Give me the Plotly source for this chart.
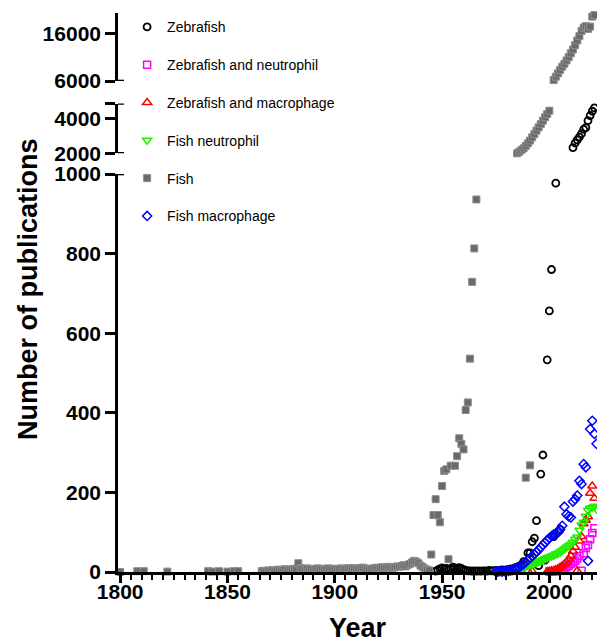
import plotly.graph_objects as go

FONT = "Liberation Sans, Arial, sans-serif"

# ---------------- data ----------------
# Zebrafish
zf_years = [1947, 1948, 1949, 1950, 1951, 1952, 1953, 1954, 1955, 1956, 1957, 1958, 1959, 1960,
            1961, 1962, 1963, 1964, 1965, 1966, 1967, 1968, 1969, 1970, 1971, 1972, 1973, 1974,
            1975, 1976, 1977, 1978, 1979, 1980, 1981, 1982, 1983, 1984, 1985, 1986, 1987,
            1988, 1990, 1991, 1992, 1993, 1994, 1995, 1996, 1997, 1998, 1999, 2000, 2001,
            2002, 2003, 2005,
            2011, 2012, 2013, 2014, 2015, 2016, 2017, 2018, 2019, 2020, 2021]
zf_vals = [2, 5, 8, 10, 7, 9, 6, 8, 12, 10, 8, 11, 9, 6,
           4, 3, 3, 2, 3, 2, 3, 2, 3, 3, 2, 4, 3, 3,
           4, 3, 4, 5, 4, 5, 6, 8, 7, 10, 12, 15, 18,
           26, 48, 48, 76, 85, 129, 16, 246, 294, 30, 533, 656, 760,
           89, 977, 107,
           2330, 2600, 2780, 2950, 3150, 3400, 3500, 3900, 4200, 4450, 4650]

# Zebrafish and neutrophil
zn_years = [2000, 2001, 2002, 2003, 2004, 2005, 2006, 2007, 2008, 2009, 2010, 2011, 2012,
            2013, 2014, 2015, 2016, 2017, 2018, 2019, 2020, 2021]
zn_vals = [1, 1, 2, 2, 3, 4, 5, 8, 12, 16, 20, 24, 28, 34, 40, 3, 47, 60, 68, 82, 98, 110]

# Zebrafish and macrophage
zm_years = [1990, 1992, 1999, 2000, 2001, 2002, 2003, 2004, 2005, 2006, 2007, 2008, 2009,
            2010, 2011, 2012, 2013, 2014, 2015, 2016, 2017, 2018, 2019, 2020, 2021]
zm_vals = [3, 2, 1, 2, 3, 4, 6, 8, 12, 15, 20, 25, 32, 40, 52, 62, 3, 78, 89, 121, 130,
           139, 198, 216, 185]

# Fish neutrophil
fn_years = [1975, 1976, 1977, 1978, 1979, 1980, 1981, 1982, 1983, 1984, 1985, 1986, 1987,
            1988, 1989, 1990, 1991, 1992, 1993, 1994, 1995, 1996, 1997, 1998, 1999, 2000,
            2001, 2002, 2003, 2004, 2005, 2006, 2007, 2008, 2009, 2010, 2011, 2012, 2013,
            2014, 2015, 2016, 2017, 2018, 2019, 2020, 2021, 2022]
fn_vals = [1, 1, 2, 1, 2, 2, 3, 3, 4, 4, 5, 8, 10, 12, 14, 16, 18, 20, 22, 24, 26, 28, 30,
           33, 36, 38, 40, 42, 45, 47, 50, 54, 58, 62, 66, 70, 75, 82, 88, 105, 118, 125,
           140, 155, 160, 162, 165, 158]

# Fish
fish_years = [1800, 1808, 1811, 1822, 1841, 1843, 1846, 1850, 1853, 1855,
              1866, 1867, 1868, 1869, 1870, 1871, 1872, 1873, 1874, 1875, 1876, 1877, 1878, 1879,
              1880, 1881, 1882, 1883, 1884, 1885, 1886, 1887, 1888, 1889,
              1890, 1891, 1892, 1893, 1894, 1895, 1896, 1897, 1898, 1899,
              1900, 1901, 1902, 1903, 1904, 1905, 1906, 1907, 1908, 1909,
              1910, 1911, 1912, 1913, 1914, 1915, 1916, 1917, 1918, 1919,
              1920, 1921, 1922, 1923, 1924, 1925, 1926, 1927, 1928, 1929,
              1930, 1931, 1932, 1933, 1934, 1935, 1936, 1937, 1938, 1939,
              1940, 1941, 1942, 1943, 1944,
              1945, 1946, 1947, 1948, 1949, 1950, 1951, 1952, 1953, 1954, 1956, 1957, 1958,
              1959, 1960, 1961, 1962, 1963, 1964, 1965, 1966, 1989, 1991,
              1985, 1986, 1987, 1988, 1989, 1990, 1991, 1992, 1993, 1994, 1995, 1996, 1997,
              1998, 1999, 2000,
              2002, 2003, 2004, 2005, 2006, 2007, 2008, 2009, 2010, 2011, 2012, 2013, 2014,
              2015, 2016, 2017, 2018, 2019, 2020, 2021]
fish_vals = [0, 2, 2, 1, 2, 1, 2, 1, 2, 2,
             2, 3, 2, 4, 3, 5, 3, 4, 6, 4, 5, 7, 5, 6,
             6, 8, 7, 22, 10, 8, 6, 9, 7, 8,
             6, 7, 9, 8, 7, 6, 8, 9, 7, 8,
             7, 8, 6, 9, 8, 7, 9, 10, 8, 9,
             9, 8, 10, 11, 9, 7, 6, 8, 9, 10,
             11, 10, 12, 9, 11, 13, 12, 10, 12, 14,
             13, 15, 17, 14, 18, 20, 24, 28, 26, 22,
             16, 12, 8, 6, 4,
             44, 143, 183, 143, 125, 216, 254, 258, 32, 267, 267, 291, 336,
             322, 308, 407, 426, 536, 729, 813, 936, 237, 268,
             2000, 2090, 2190, 2290, 2430, 2580, 2740, 2930, 3120, 3320, 3510, 3700, 3900,
             4100, 4290, 4480,
             6200, 6900, 7600, 8300, 9000, 9600, 10300, 11000, 11800, 12600, 13500, 14500, 15400,
             16500, 17200, 17500, 16900, 17400, 19500, 19800]

# Fish macrophage
fm_years = [1975, 1976, 1977, 1978, 1979, 1980, 1981, 1982, 1983, 1984, 1985, 1986, 1987,
            1988, 1989, 1990, 1991, 1992, 1993, 1994, 1995, 1996, 1997, 1998, 1999, 2000,
            2001, 2002, 2003, 2004, 2005, 2006, 2007, 2008, 2009, 2010, 2011, 2012, 2013,
            2014, 2015, 2016, 2017, 2018, 2019, 2020, 2021, 2022]
fm_vals = [1, 1, 2, 1, 2, 3, 3, 4, 5, 7, 9, 12, 16, 20, 25, 30, 35, 40, 45, 50, 56, 62,
           68, 74, 80, 85, 90, 94, 97, 99, 107, 116, 164, 145, 140, 137, 177, 183, 192,
           229, 221, 271, 263, 28, 359, 380, 347, 322]

# axis segments (broken y axis)
SEGMENTS = [("y", 0, 1000), ("y2", 2000, 4900), ("y3", 6000, 20250)]
Y_TICKS = {"y": [0, 200, 400, 600, 800, 1000], "y2": [2000, 4000, 4900], "y3": [6000, 16000]}
Y_TEXT = {"y": ["0", "200", "400", "600", "800", "1000"], "y2": ["2000", "4000", ""],
          "y3": ["6000", "16000"]}
X_TICKS = [1800, 1850, 1900, 1950, 2000]

series = [
    dict(name="Zebrafish", x=zf_years, y=zf_vals, symbol="circle-open", color="#000000",
         size=7, lw=1.8),
    dict(name="Zebrafish and neutrophil", x=zn_years, y=zn_vals, symbol="square-open",
         color="#FF00FF", size=7, lw=1.5),
    dict(name="Zebrafish and macrophage", x=zm_years, y=zm_vals, symbol="triangle-up-open",
         color="#FF0000", size=8, lw=1.5),
    dict(name="Fish neutrophil", x=fn_years, y=fn_vals, symbol="triangle-down-open",
         color="#22EE00", size=8, lw=1.5),
    dict(name="Fish", x=fish_years, y=fish_vals, symbol="square", color="#6A6A6A",
         size=7, lw=1.0, edge="#8E8E8E"),
    dict(name="Fish macrophage", x=fm_years, y=fm_vals, symbol="diamond-open",
         color="#0000FF", size=7, lw=1.5),
]

fig = go.Figure()
for s in series:
    first = True
    for ax, lo, hi in SEGMENTS:
        pts = [(a, b) for a, b in zip(s["x"], s["y"]) if lo <= b <= hi]
        if not pts and not first:
            continue
        xs = [p[0] for p in pts]
        ys = [p[1] for p in pts]
        marker = dict(symbol=s["symbol"], size=s["size"], color=s["color"],
                      line=dict(width=s["lw"], color=s.get("edge", s["color"])))
        fig.add_trace(go.Scatter(x=xs, y=ys, yaxis=ax, mode="markers", name=s["name"],
                                 legendgroup=s["name"], showlegend=first,
                                 cliponaxis=False, marker=marker))
        first = False

LW = 2.6
PLOT_TOP_PX, PLOT_BOT_PX, H = 13, 572, 643
PH = PLOT_BOT_PX - PLOT_TOP_PX


def dom(top_px, bot_px):
    return [(PLOT_BOT_PX - bot_px) / PH, (PLOT_BOT_PX - top_px) / PH]


yaxis_common = dict(showline=True, linewidth=LW, linecolor="black", ticks="outside",
                    ticklen=10, tickwidth=LW, tickcolor="black", showgrid=False,
                    zeroline=False, anchor="x", tickmode="array",
                    tickfont=dict(family=FONT, size=21, color="black", weight="bold"))

fig.update_layout(
    width=597, height=643,
    margin=dict(l=118, r=0, t=PLOT_TOP_PX, b=H - PLOT_BOT_PX),
    paper_bgcolor="white", plot_bgcolor="white",
    font=dict(family=FONT, color="black"),
    xaxis=dict(range=[1799, 2022.2], showline=True, linewidth=LW, linecolor="black",
               ticks="outside", ticklen=8, tickwidth=LW, tickcolor="black",
               tickmode="array", tickvals=X_TICKS, showgrid=False, zeroline=False,
               anchor="y", ticklabelstandoff=-9,
               minor=dict(tickmode="linear", tick0=1800, dtick=5, ticks="outside",
                          ticklen=5, tickwidth=2, tickcolor="black", showgrid=False),
               tickfont=dict(family=FONT, size=21, color="black", weight="bold"),
               title=dict(text="Year", standoff=18,
                          font=dict(family=FONT, size=27, color="black", weight="bold"))),
    yaxis=dict(domain=dom(174, 572), range=[0, 1000], tickvals=Y_TICKS["y"],
               ticktext=Y_TEXT["y"], **yaxis_common),
    yaxis2=dict(domain=dom(103.5, 153.3), range=[2000, 4900], tickvals=Y_TICKS["y2"],
                ticktext=Y_TEXT["y2"], **yaxis_common),
    yaxis3=dict(domain=dom(13, 81), range=[6000, 20250], tickvals=Y_TICKS["y3"],
                ticktext=Y_TEXT["y3"], **yaxis_common),
    legend=dict(x=0.019, xanchor="left", y=1.003, yanchor="top", bgcolor="rgba(0,0,0,0)",
                font=dict(family=FONT, size=14, color="black"), tracegroupgap=16.6,
                itemsizing="trace"),
    showlegend=True,
)

# segment end caps on the right of the broken axis
for ref, val in [("y", 1000), ("y2", 2000), ("y2", 4900), ("y3", 6000)]:
    fig.add_shape(type="line", xref="x domain", yref=ref, x0=0, x1=6 / 479, y0=val, y1=val,
                  line=dict(color="black", width=LW), layer="above")

fig.add_annotation(text="Number of publications", xref="paper", yref="paper",
                   x=(28 - 118) / 479, y=(PLOT_BOT_PX - 289) / PH, xanchor="center",
                   yanchor="middle", textangle=-90, showarrow=False,
                   font=dict(family=FONT, size=27, color="black", weight="bold"))

fig.write_html("out.html", config={"displayModeBar": False},
               post_script="document.body.style.margin='0';document.body.style.overflow='hidden';")
